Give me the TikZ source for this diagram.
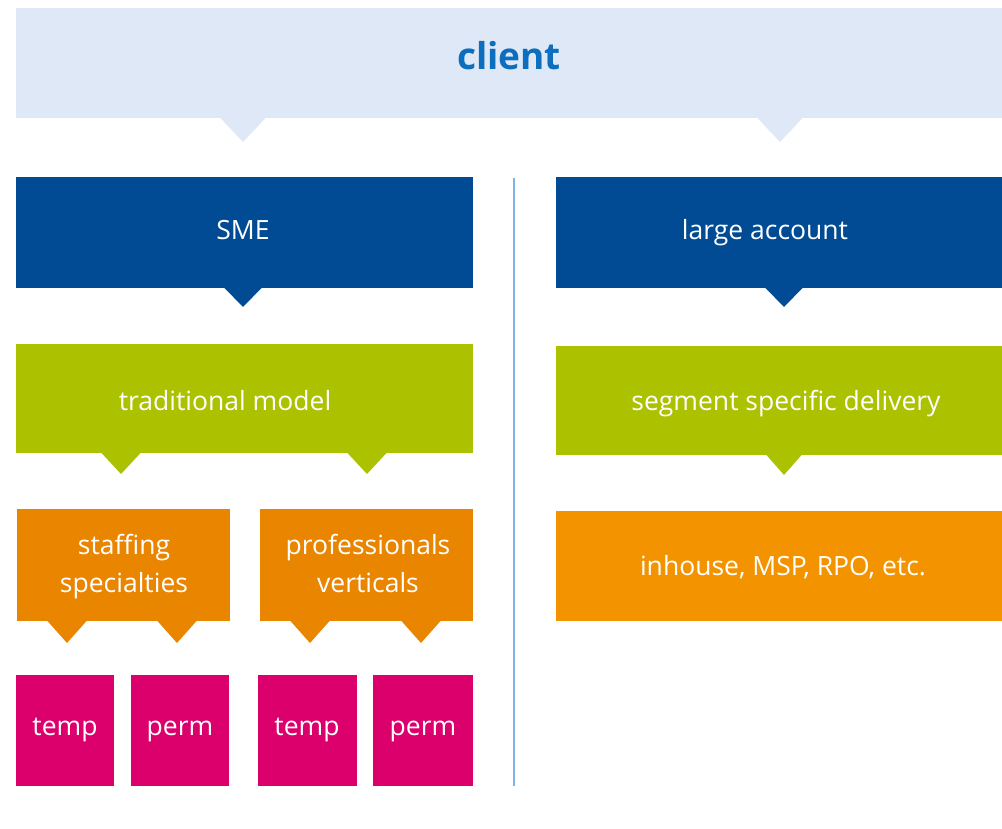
\documentclass[tikz,border=0pt]{standalone}
\usepackage{fontspec}
\setmainfont{Open Sans}
\usetikzlibrary{fit}
\definecolor{clientbg}{RGB}{222,232,246}
\definecolor{clienttxt}{RGB}{12,110,189}
\definecolor{navy}{RGB}{0,75,147}
\definecolor{lime}{RGB}{172,193,0}
\definecolor{orangeL}{RGB}{234,133,0}
\definecolor{orangeR}{RGB}{243,147,0}
\definecolor{magentaB}{RGB}{220,0,109}
\definecolor{divider}{RGB}{128,178,226}
\tikzset{
  box/.style={rectangle, inner sep=0pt, outer sep=0pt, draw=none, fit={#1}},
  lbl/.style={text=white, font=\fontsize{26.5}{38}\selectfont, align=center, inner sep=0pt, anchor=base},
}
% pointer: color, tip x, base y, half width, height
\newcommand\pointer[5]{\fill[#1] (#2-#4,#3-0.5) -- (#2+#4,#3-0.5) -- (#2,#3+#5) -- cycle;}
\begin{document}
\begin{tikzpicture}[x=1pt,y=-1pt]
\useasboundingbox[fill=white] (0,0) rectangle (1002,829);
% client
\node[box={(16,8)(1002,118)}, fill=clientbg] (client) {};
\node[font=\fontsize{37}{44}\selectfont\bfseries, text=clienttxt, inner sep=0pt, anchor=base] (clientt) at (509,70) {client};
\pointer{clientbg}{243}{118}{23}{24}
\pointer{clientbg}{780}{118}{23}{24}
% divider
\coordinate (dtop) at (514,178);
\coordinate (dbot) at (514,786);
\draw[divider, line width=1.5pt] (dtop) -- (dbot);
% level 1
\node[box={(16,177)(473,288)}, fill=navy] (sme) {};
\node[lbl] (smet) at (243,240) {SME};
\pointer{navy}{243}{288}{19}{19}
\node[box={(556,177)(1002,288)}, fill=navy] (large) {};
\node[lbl] (larget) at (765,240) {large account};
\pointer{navy}{784}{288}{19}{19}
% level 2
\node[box={(16,344)(473,453)}, fill=lime] (trad) {};
\node[lbl] (tradt) at (225,410) {traditional model};
\pointer{lime}{121}{453}{20}{21}
\pointer{lime}{367}{453}{20}{21}
\node[box={(556,346)(1002,455)}, fill=lime] (seg) {};
\node[lbl] (segt) at (786,410) {segment specific delivery};
\pointer{lime}{784}{455}{18}{20}
% level 3
\node[box={(17,509)(230,621)}, fill=orangeL] (staff) {};
\node[lbl] (stafft) at (124,592) {staffing\\specialties};
\pointer{orangeL}{67}{621}{20}{22}
\pointer{orangeL}{177}{621}{20}{22}
\node[box={(260,509)(473,621)}, fill=orangeL] (prof) {};
\node[lbl] (proft) at (368,592) {professionals\\verticals};
\pointer{orangeL}{310}{621}{20}{22}
\pointer{orangeL}{421}{621}{20}{22}
\node[box={(556,511)(1002,621)}, fill=orangeR] (inh) {};
\node[lbl] (inht) at (783,575) {inhouse, MSP, RPO, etc.};
% level 4
\node[box={(16,675)(114,786)}, fill=magentaB] (t1) {};
\node[lbl] (t1t) at (65,735) {temp};
\node[box={(131,675)(229,786)}, fill=magentaB] (p1) {};
\node[lbl] (p1t) at (180,735) {perm};
\node[box={(258,675)(357,786)}, fill=magentaB] (t2) {};
\node[lbl] (t2t) at (307,735) {temp};
\node[box={(373,675)(473,786)}, fill=magentaB] (p2) {};
\node[lbl] (p2t) at (423,735) {perm};
\end{tikzpicture}
\end{document}
